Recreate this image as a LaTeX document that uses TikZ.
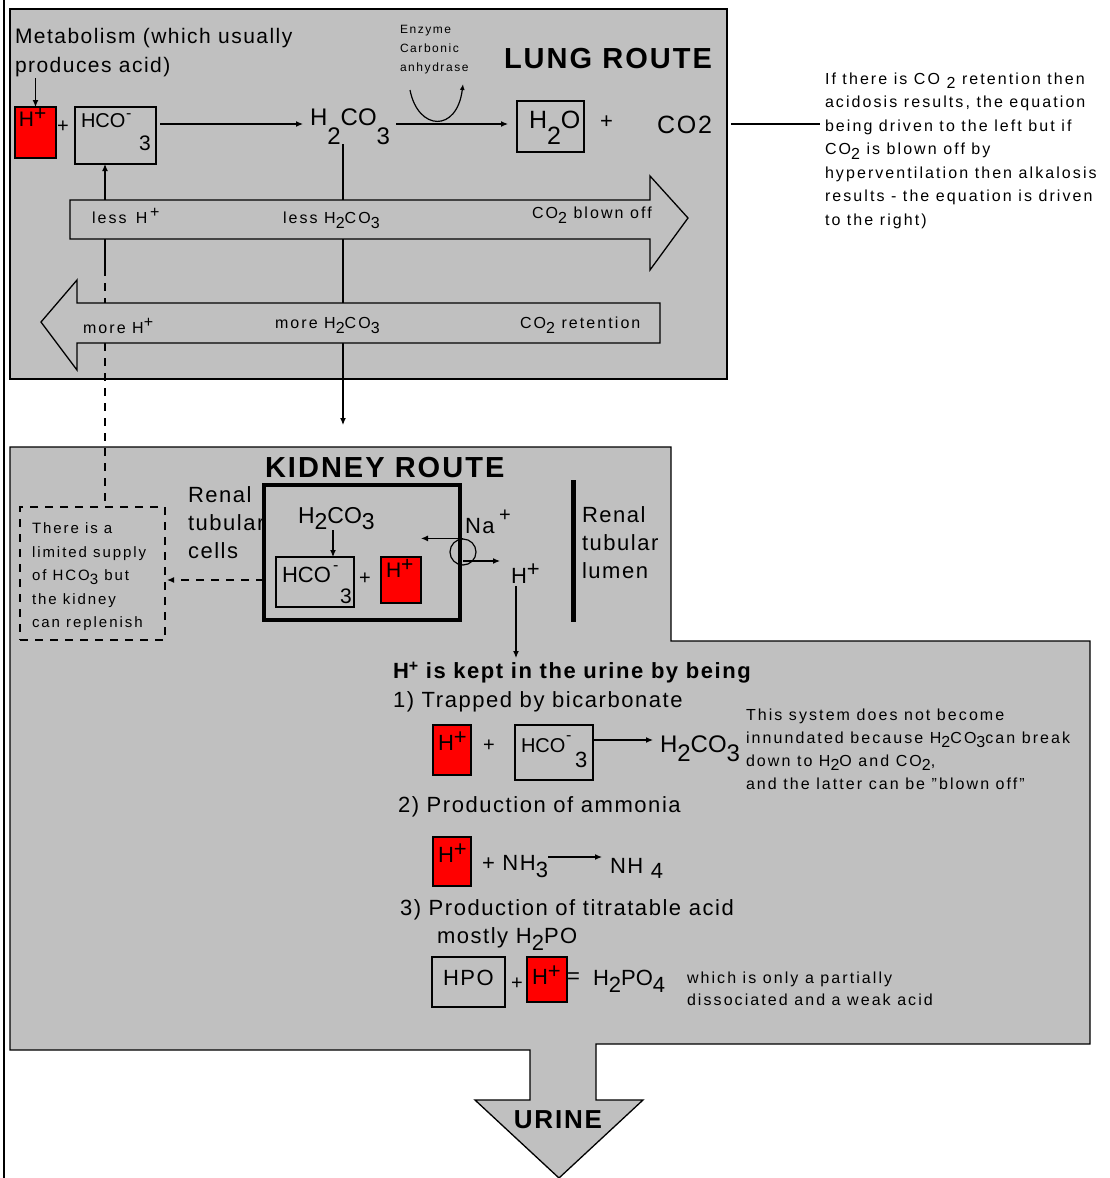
\documentclass[tikz,border=0pt]{standalone}
\usepackage{fontspec}
\setmainfont{Liberation Sans}[LetterSpace=7]
\usetikzlibrary{arrows.meta}
\definecolor{panel}{HTML}{C0C0C0}
\definecolor{hred}{HTML}{FF0000}
\newcommand\fsz[1]{\fontsize{#1}{#1}\selectfont}
\newcommand\smf[1]{\fontsize{#1}{#1}\selectfont\addfontfeature{LetterSpace=13}}
\newcommand\chf[1]{\fontsize{#1}{#1}\selectfont\addfontfeature{LetterSpace=0}}
\newcommand\lowr[2][0.4em]{\raisebox{-#1}{#2}}
\newcommand\highr[2][0.3em]{\raisebox{#1}{#2}}
\begin{document}
\begin{tikzpicture}[x=1pt,y=-1pt,
  bx/.style={draw=black,line width=1.3pt,inner sep=0pt,outer sep=0pt,anchor=north west},
  hbox/.style={bx,fill=hred},
  tx/.style={anchor=base west,inner sep=0pt,outer sep=0pt},
  lnw/.style={line width=1.2pt},
  con/.style={lnw,-{Latex[length=7pt,width=6pt]}},
  dsh/.style={dash pattern=on 8pt off 7pt},
  bigt/.style={tx,font=\fsz{22}},
  smallt/.style={tx,font=\smf{16}},
  hollow/.style={draw=black,line width=1.3pt,fill=panel,line join=miter},
]
\useasboundingbox (0,0) rectangle (1110,1178);
\fill[white] (0,0) rectangle (1110,1178);
\draw[line width=2.5pt] (4,0) -- (4,1178);

% ---------------- panels
\node[bx,fill=panel,minimum width=717,minimum height=370] (lung) at (10,9) {};
\draw[line width=1.3pt,fill=panel] (10,447) -- (671,447) -- (671,641) -- (1090,641) -- (1090,1044)
  -- (596,1044) -- (596,1100) -- (643,1100) -- (559,1178) -- (475,1100) -- (530,1100)
  -- (530,1050) -- (10,1050) -- cycle;

% ---------------- lung route: top row
\node[tx,font=\fsz{21}] (met1) at (15,43) {Metabolism (which usually};
\node[tx,font=\fsz{21}] (met2) at (15,72) {produces acid)};
\node[hbox,minimum width=41,minimum height=51] (hp1) at (15,107) {};
\node[tx,font=\fsz{21}] (hp1t) at (19,126) {H\highr[0.25em]{+}};
\draw[con] (hp1.north |- 0,78) -- (hp1.north);
\node[tx,font=\fsz{20}] (pl1) at (57,132) {+};
\node[bx,minimum width=81,minimum height=57] (hco1) at (75,107) {};
\node[tx,font=\chf{20}] (hco1t) at (81,127) {HCO};
\node[tx,font=\fsz{16}] (hco1m) at (126,118) {-};
\node[tx,font=\fsz{21}] (hco1s) at (139,150) {3};
\node[tx,font=\chf{24}] (h2co3a) at (310,125) {H\lowr[0.8em]{2}CO\lowr[0.8em]{3}};
\draw[con,shorten <=4pt,shorten >=7pt] (hco1.east |- 0,124) -- (h2co3a.west |- 0,124);

\node[tx,font=\smf{12}] (enz1) at (400,33) {Enzyme};
\node[tx,font=\smf{12}] (enz2) at (400,52) {Carbonic};
\node[tx,font=\smf{12}] (enz3) at (400,71) {anhydrase};
\draw[lnw,-{Latex[length=6pt,width=5pt]}] (410,90) .. controls (418,131) and (457,133) .. (463,84);

\node[bx,minimum width=67,minimum height=51] (h2o) at (517,101) {};
\node[tx,font=\chf{25}] (h2ot) at (529,128) {H\lowr[0.65em]{2}O};
\draw[con,shorten <=6pt,shorten >=9pt] (h2co3a.east |- 0,124) -- (h2o.west |- 0,124);
\node[tx,font=\fsz{22}] (pl2) at (600,128) {+};
\node[tx,font=\fsz{25}] (co2) at (657,133) {CO2};
\node[tx,font=\fsz{29}\bfseries] (lungT) at (504,68) {LUNG ROUTE};

% side note
\node[smallt] (p1) at (825,84) {If there is CO \lowr[0.3em]{2} retention then};
\node[smallt] (p2) at (825,107.5) {acidosis results, the equation};
\node[smallt] (p3) at (825,131) {being driven to the left but if};
\node[smallt] (p4) at (825,154.5) {CO\lowr[0.3em]{2} is blown off by};
\node[smallt] (p5) at (825,178) {hyperventilation then alkalosis};
\node[smallt] (p6) at (825,201.5) {results - the equation is driven};
\node[smallt] (p7) at (825,225) {to the right)};
\draw[lnw,shorten <=19pt,shorten >=5pt] (co2.east |- 0,124) -- (p3.west |- 0,124);

% ---------------- kidney route nodes (needed for connectors)
\node[tx,font=\fsz{29}\bfseries] (kidT) at (265,477) {KIDNEY ROUTE};
\node[bx,dsh,minimum width=145,minimum height=133] (note) at (20,507) {};

% ---------------- vertical connectors (under the hollow arrows)
\coordinate (raTop) at (105,200);
\coordinate (raBot) at (105,239);
\coordinate (dashStart) at (105,268);
\draw[con] (raTop) -- (hco1.south -| raTop);
\draw[lnw] (raBot) -- (dashStart);
\draw[lnw,dsh] (dashStart) -- (note.north -| dashStart);
\draw[con] (h2co3a.south -| 343,0) -- (343,425);

% ---------------- hollow arrows
\draw[hollow] (70,200) -- (650,200) -- (650,176) -- (688,218) -- (650,270) -- (650,239) -- (70,239) -- cycle;
\draw[hollow] (660,303) -- (77,303) -- (77,280) -- (41,322) -- (77,370) -- (77,343) -- (660,343) -- cycle;
\node[smallt] (ra1) at (92,223) {less \,H\,\highr[0.35em]{+}};
\node[smallt] (ra2) at (283,223) {less H\lowr[0.35em]{2}CO\lowr[0.35em]{3}};
\node[smallt] (ra3) at (532,218) {CO\lowr[0.35em]{2} blown off};
\node[smallt] (la1) at (83,333) {more H\highr[0.35em]{+}};
\node[smallt] (la2) at (275,328) {more H\lowr[0.35em]{2}CO\lowr[0.35em]{3}};
\node[smallt] (la3) at (520,328) {CO\lowr[0.35em]{2} retention};

% ---------------- kidney: cell
\node[bx,line width=4pt,minimum width=196,minimum height=135] (cell) at (264,485) {};
\node[tx,font=\chf{23}] (kh2co3) at (298,523) {H\lowr[0.3em]{2}CO\lowr[0.3em]{3}};
\node[bx,minimum width=78,minimum height=50] (hco2) at (276,557) {};
\draw[con] (kh2co3.south -| 333,0) -- (hco2.north -| 333,0);
\node[tx,font=\chf{22}] (hco2t) at (282,582) {HCO};
\node[tx,font=\fsz{16}] (hco2m) at (333,570) {-};
\node[tx,font=\fsz{21}] (hco2s) at (340,603) {3};
\node[tx,font=\fsz{20}] (pl3) at (359,584) {+};
\node[hbox,minimum width=40,minimum height=46] (hp2) at (381,557) {};
\node[tx,font=\fsz{21}] (hp2t) at (386,577) {H\highr[0.25em]{+}};

\node[bigt] (rc1) at (188,502) {Renal};
\node[bigt] (rc2) at (188,530) {tubular};
\node[bigt] (rc3) at (188,558) {cells};
\draw[con,dsh,shorten >=2pt] (cell.west |- 0,580) -- (note.east |- 0,580);

\node[tx,font=\smf{15}] (n1) at (32,533) {There is a};
\node[tx,font=\smf{15}] (n2) at (32,557) {limited supply};
\node[tx,font=\smf{15}] (n3) at (32,580) {of HCO\lowr[0.3em]{3} but};
\node[tx,font=\smf{15}] (n4) at (32,604) {the kidney};
\node[tx,font=\smf{15}] (n5) at (32,627) {can replenish};

\node[tx,font=\fsz{22}] (na) at (465,533) {Na};
\node[tx,font=\fsz{20}] (nap) at (499,521) {+};
\node[draw,lnw,circle,minimum size=26,inner sep=0pt] (pump) at (463,552) {};
\draw[con] (pump.north) -- (hp2.east |- pump.north);
\node[tx,font=\fsz{22}] (hpk) at (511,583) {H\highr[0.3em]{+}};
\coordinate (pumpOut) at (463,561);
\draw[con,shorten >=11pt] (pumpOut) -- (hpk.west |- pumpOut);
\draw[line width=5pt] (573,480) -- (573,622);
\node[bigt] (rl1) at (582,522) {Renal};
\node[bigt] (rl2) at (582,550) {tubular};
\node[bigt] (rl3) at (582,578) {lumen};

% ---------------- kidney: urine
\node[tx,font=\fsz{22}\bfseries] (keep) at (393,678) {H\highr[0.3em]{\fsz{16}+} is kept in the urine by being};
\draw[con,shorten <=3pt] (hpk.south -| 516,0) -- (516,658);

\node[bigt] (s1) at (393,707) {1) Trapped by bicarbonate};
\node[hbox,minimum width=38,minimum height=50] (hp3) at (433,725) {};
\node[tx,font=\fsz{22}] (hp3t) at (438,750) {H\highr[0.25em]{+}};
\node[tx,font=\fsz{20}] (pl4) at (483,751) {+};
\node[bx,minimum width=78,minimum height=55] (hco3) at (515,725) {};
\node[tx,font=\chf{20}] (hco3t) at (521,752) {HCO};
\node[tx,font=\fsz{16}] (hco3m) at (566,740) {-};
\node[tx,font=\fsz{22}] (hco3s) at (575,767) {3};
\node[tx,font=\chf{24}] (kh2co3b) at (660,752) {H\lowr[0.4em]{2}CO\lowr[0.4em]{3}};
\draw[con,shorten >=7pt] (hco3.east |- 0,740) -- (kh2co3b.west |- 0,740);

\node[smallt] (k1) at (746,720) {This system does not become};
\node[smallt] (k2) at (746,743) {innundated because H\lowr[0.3em]{2}CO\lowr[0.3em]{3}can break};
\node[smallt] (k3) at (746,766) {down to H\lowr[0.3em]{2}O and CO\lowr[0.3em]{2},};
\node[smallt] (k4) at (746,789) {and the latter can be "blown off"};

\node[bigt] (s2) at (398,812) {2) Production of ammonia};
\node[hbox,minimum width=38,minimum height=49] (hp4) at (433,837) {};
\node[tx,font=\fsz{22}] (hp4t) at (438,862) {H\highr[0.25em]{+}};
\node[bigt] (nh3) at (482,870) {+ NH\lowr[0.35em]{3}};
\node[bigt] (nh4) at (610,873) {NH \lowr[0.25em]{4}};
\draw[con,shorten >=8pt] (nh3.east |- 0,857) -- (nh4.west |- 0,857);

\node[bigt] (s3) at (400,915) {3) Production of titratable acid};
\node[bigt] (s3b) at (437,943) {mostly H\lowr[0.35em]{2}PO};
\node[bx,minimum width=73,minimum height=50] (hpo) at (432,957) {};
\node[bigt] (hpot) at (443,985) {HPO};
\node[tx,font=\fsz{20}] (pl5) at (511,989) {+};
\node[hbox,minimum width=40,minimum height=45] (hp5) at (527,957) {};
\node[tx,font=\fsz{22}] (hp5t) at (532,984) {H\highr[0.25em]{+}};
\node[bigt] (eq) at (567,983) {=};
\node[tx,font=\chf{22}] (h2po4) at (593,985) {H\lowr[0.35em]{2}PO\lowr[0.35em]{4}};
\node[smallt] (w1) at (687,983) {which is only a partially};
\node[smallt] (w2) at (687,1005) {dissociated and a weak acid};

\node[anchor=base,inner sep=0pt,font=\fsz{26}\bfseries] (urine) at (558,1128) {URINE};
\end{tikzpicture}
\end{document}
